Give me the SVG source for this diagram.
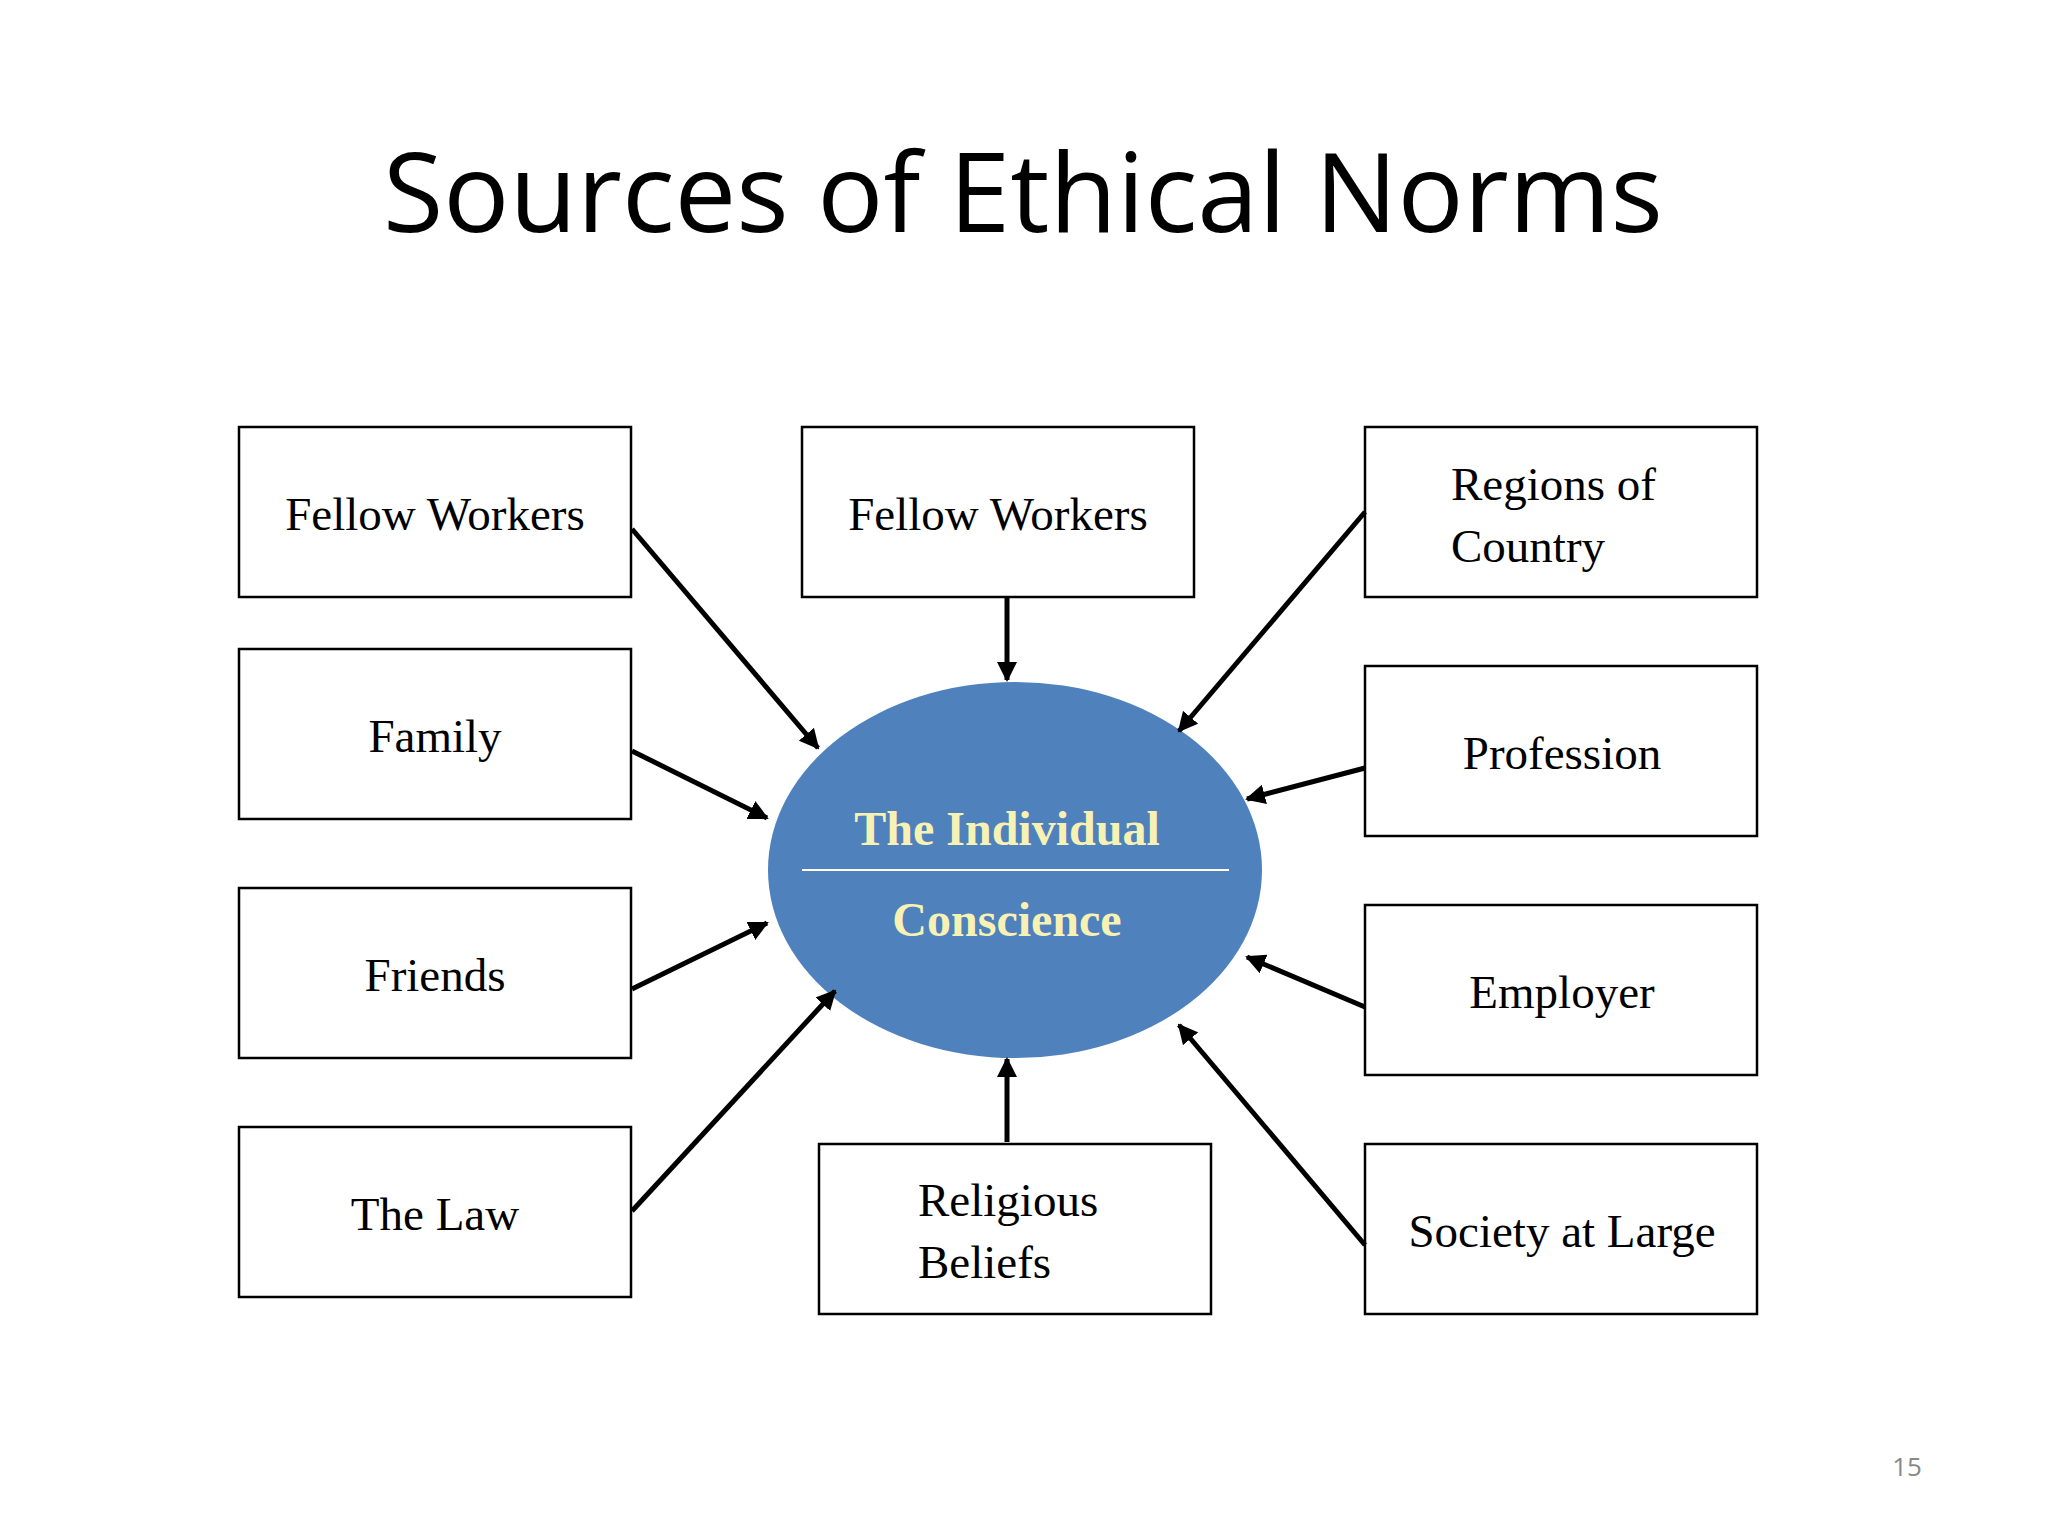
<svg xmlns="http://www.w3.org/2000/svg" width="2048" height="1536" viewBox="0 0 2048 1536">
<defs>
<marker id="ah" viewBox="0 0 10 10" refX="9" refY="5" markerWidth="4" markerHeight="4" orient="auto"><path d="M0,0 L10,5 L0,10 z" fill="#000"/></marker>
<style>
.box{fill:#fff;stroke:#000;stroke-width:2.5}
.t{font-family:"Liberation Serif",serif;font-size:47px;fill:#000}
.c{text-anchor:middle}
.con line{stroke:#000;stroke-width:5;marker-end:url(#ah)}
.ct{font-family:"Liberation Serif",serif;font-weight:bold;font-size:48px;fill:#f7f2b4;text-anchor:middle}
</style>
</defs>
<rect width="2048" height="1536" fill="#fff"/>
<text x="1023" y="232" font-family="'Open Sans',sans-serif" font-size="110" text-anchor="middle">Sources of Ethical Norms</text>
<g id="center"><ellipse cx="1015" cy="870" rx="247" ry="188" fill="#4f81bd"/><line x1="802" y1="870" x2="1229" y2="870" stroke="#fff" stroke-width="2"/><text class="ct" x="1007" y="845">The Individual</text><text class="ct" x="1007" y="936">Conscience</text></g>
<g id="n1"><rect class="box" x="239" y="427" width="392" height="170"/><text class="t c" x="435" y="530">Fellow Workers</text></g>
<g id="n2"><rect class="box" x="239" y="649" width="392" height="170"/><text class="t c" x="435" y="752">Family</text></g>
<g id="n3"><rect class="box" x="239" y="888" width="392" height="170"/><text class="t c" x="435" y="991">Friends</text></g>
<g id="n4"><rect class="box" x="239" y="1127" width="392" height="170"/><text class="t c" x="435" y="1230">The Law</text></g>
<g id="n5"><rect class="box" x="802" y="427" width="392" height="170"/><text class="t c" x="998" y="530">Fellow Workers</text></g>
<g id="n6"><rect class="box" x="819" y="1144" width="392" height="170"/><text class="t" x="918" y="1216">Religious</text><text class="t" x="918" y="1278">Beliefs</text></g>
<g id="n7"><rect class="box" x="1365" y="427" width="392" height="170"/><text class="t" x="1451" y="500">Regions of</text><text class="t" x="1451" y="562">Country</text></g>
<g id="n8"><rect class="box" x="1365" y="666" width="392" height="170"/><text class="t c" x="1562" y="769">Profession</text></g>
<g id="n9"><rect class="box" x="1365" y="905" width="392" height="170"/><text class="t c" x="1562" y="1008">Employer</text></g>
<g id="n10"><rect class="box" x="1365" y="1144" width="392" height="170"/><text class="t c" x="1562" y="1247">Society at Large</text></g>
<g class="con">
<line x1="632" y1="529" x2="818" y2="748"/>
<line x1="632" y1="751" x2="767" y2="818"/>
<line x1="632" y1="989" x2="767" y2="923"/>
<line x1="632" y1="1211" x2="835" y2="991"/>
<line x1="1007" y1="597" x2="1007" y2="680"/>
<line x1="1007" y1="1142" x2="1007" y2="1059"/>
<line x1="1365" y1="512" x2="1179" y2="731"/>
<line x1="1365" y1="768" x2="1247" y2="799"/>
<line x1="1365" y1="1007" x2="1247" y2="957"/>
<line x1="1365" y1="1245" x2="1179" y2="1025"/>
</g>
<text x="1907" y="1476" font-family="'Open Sans',sans-serif" font-size="26" fill="#888" text-anchor="middle">15</text>
</svg>
